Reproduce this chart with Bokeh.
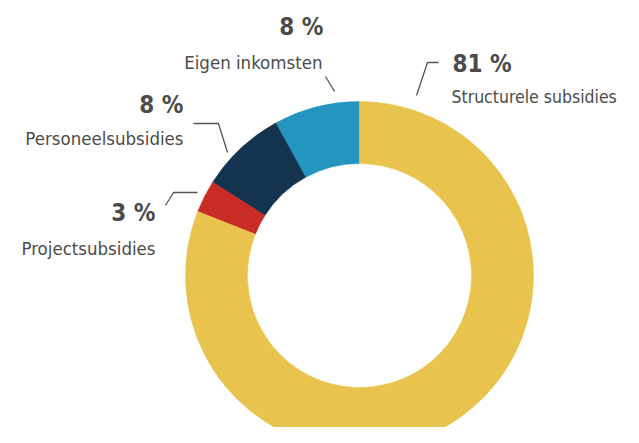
import math
from bokeh.plotting import figure
from bokeh.models import Range1d, ColumnDataSource
from bokeh.core.properties import value
from bokeh.embed import file_html
from bokeh.resources import INLINE

# ---- data ----
categories = ["Eigen inkomsten", "Personeelsubsidies", "Projectsubsidies", "Structurele subsidies"]
shares = [8, 8, 3, 81]
pct_labels = ["8 %", "8 %", "3 %", "81 %"]
colors = ["#2395BF", "#13344F", "#C82C25", "#E8C44F"]

# ---- layout (pixel-like units; y measured upward) ----
W, H = 623, 427
def Y(img_y):
    return H - img_y

cx, cy = 359, Y(275)
r_out, r_in = 174, 112

total = float(sum(shares))
starts, ends = [], []
a = 90.0
for s in shares:
    starts.append(math.radians(a))
    a += 360.0 * s / total
    ends.append(math.radians(a))

p = figure(width=W, height=H, output_backend="svg", toolbar_location=None,
           x_range=Range1d(0, W), y_range=Range1d(0, H),
           min_border=0, outline_line_color=None)
p.axis.visible = False
p.grid.visible = False
p.background_fill_color = "white"
p.border_fill_color = "white"

src = ColumnDataSource(dict(x=[cx] * 4, y=[cy] * 4, start=starts, end=ends, color=colors, cat=categories))
p.annular_wedge(x="x", y="y", inner_radius=r_in, outer_radius=r_out,
                start_angle="start", end_angle="end", direction="anticlock",
                fill_color="color", line_color="color", line_width=0.5, source=src)

# label anchor positions (image coords: x, middle y, align, name size) per category
pct_pos = [(323, 26, "right"), (183, 104, "right"), (155, 212, "right"), (452, 63, "left")]
name_pos = [(322, 62, "right", "18.5px"), (183, 138, "right", "18.5px"),
            (155, 248, "right", "18.5px"), (451, 96, "left", "17.5px")]
leaders = [
    ([325, 334], [76, 91]),
    ([193, 218, 227], [123, 123, 152]),
    ([165, 173, 197], [205, 192, 192]),
    ([416, 427, 438], [95, 62, 62]),
]

FONT = "DejaVu Sans Condensed"
TXT = "#4b4b4b"

for i in range(4):
    px, py, al = pct_pos[i]
    p.text(x=[px], y=[Y(py)], text=[pct_labels[i]], text_font=value(FONT),
           text_font_size="24px", text_font_style="bold", text_color=TXT,
           text_align=al, text_baseline="middle")
    nx, ny, al2, fs = name_pos[i]
    p.text(x=[nx], y=[Y(ny)], text=[categories[i]], text_font=value(FONT),
           text_font_size=fs, text_color=TXT,
           text_align=al2, text_baseline="middle")
    lx, ly = leaders[i]
    p.line(x=lx, y=[Y(v) for v in ly], line_color="#555555", line_width=1.3)

open("out.html", "w").write(file_html(p, INLINE))
